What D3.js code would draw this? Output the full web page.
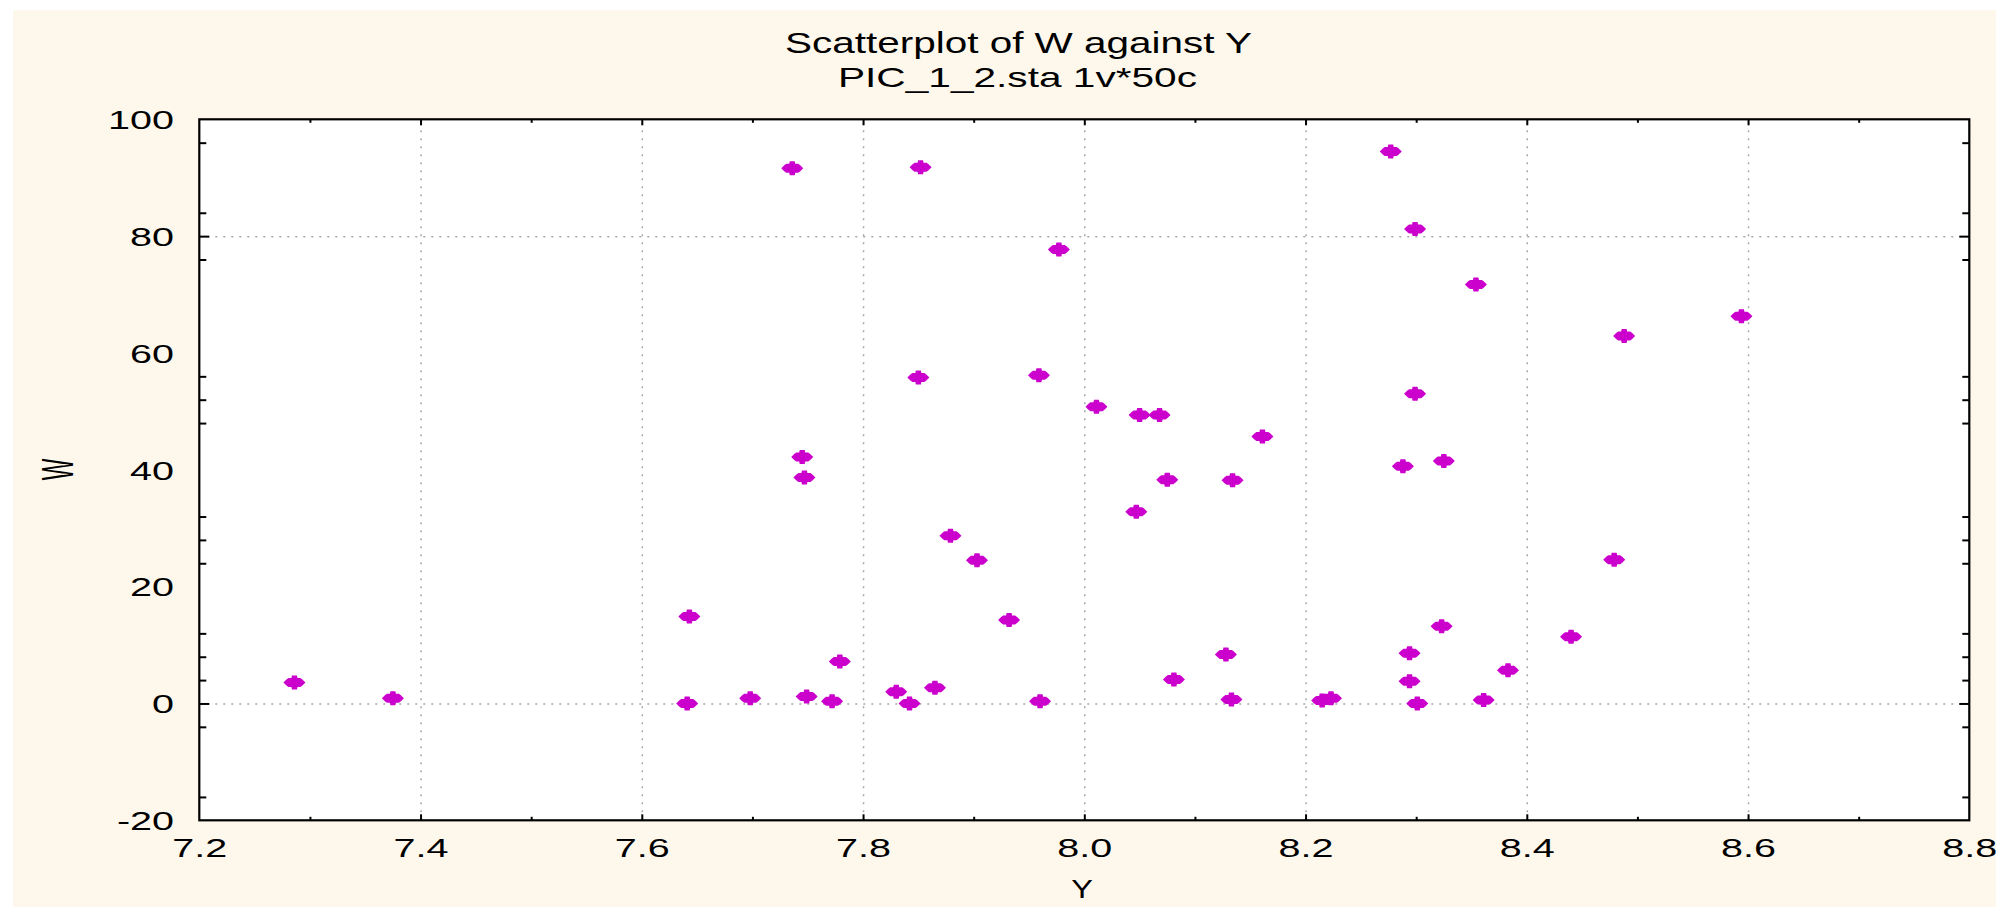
<!DOCTYPE html>
<html>
<head>
<meta charset="utf-8">
<script src="https://cdn.jsdelivr.net/npm/d3@7"></script>
<style>
  html, body { margin: 0; padding: 0; background: #ffffff; }
  svg { display: block; }
  text { font-family: "Liberation Sans", Arial, sans-serif; fill: #000; }
</style>
</head>
<body>
<svg id="chart" width="1996" height="907"></svg>
<script>
// ---- data (Y on the horizontal axis, W on the vertical axis) ----
const yValues = [7.736, 7.852, 7.977, 7.850, 7.959, 8.011, 8.050, 8.068, 8.161, 8.277,
                 8.299, 8.354, 8.299, 8.488, 8.594, 8.288, 8.325, 8.323, 8.294, 8.294,
                 8.301, 8.479, 8.440, 8.383, 8.361, 8.215, 8.223, 7.745, 7.747, 7.779,
                 7.749, 7.772, 7.698, 7.830, 7.842, 7.865, 7.879, 7.903, 7.932, 7.960,
                 8.047, 8.075, 8.134, 8.128, 8.081, 8.133, 7.286, 7.375, 7.643, 7.641];
const wValues = [91.6, 91.8, 77.7, 55.8, 56.2, 50.8, 49.4, 49.4, 45.7, 94.5,
                 81.2, 71.7, 53.0, 62.9, 66.3, 40.6, 41.5, 13.2, 8.6, 3.8,
                 0.0, 24.6, 11.4, 5.7, 0.6, 0.5, 0.9, 42.2, 38.7, 7.2,
                 1.2, 0.4, 0.9, 2.0, 0.0, 2.7, 28.7, 24.5, 14.3, 0.4,
                 32.8, 38.3, 38.2, 8.4, 4.1, 0.7, 3.6, 0.9, 14.9, 0.0];

const xTickValues = [7.2, 7.4, 7.6, 7.8, 8.0, 8.2, 8.4, 8.6, 8.8];
const xTickLabels = ["7.2", "7.4", "7.6", "7.8", "8.0", "8.2", "8.4", "8.6", "8.8"];
const yTickValues = [100, 80, 60, 40, 20, 0, -20];
const yTickLabels = ["100", "80", "60", "40", "20", "0", "-20"];
const xGridValues = [7.4, 7.6, 7.8, 8.0, 8.2, 8.4, 8.6];
const yGridValues = [80, 0];
const xMinorValues = [7.3, 7.5, 7.7, 7.9, 8.1, 8.3, 8.5, 8.7];
const yMinorValues = [96, 84, 76, 56, 52, 48, 32, 28, 24, 12, 8, 4, -4, -16];

const titleLine1 = "Scatterplot of W against Y";
const titleLine2 = "PIC_1_2.sta 1v*50c";
const xAxisTitle = "Y";
const yAxisTitle = "W";

// ---- layout ----
const pLeft = 199.3, pRight = 1969.3, pTop = 119.3, pBottom = 820.3;
const plotW = pRight - pLeft, plotH = pBottom - pTop;
const SX = 1.52; // horizontal stretch of the lettering

const svg = d3.select("#chart");

svg.append("rect").attr("x", 0).attr("y", 0).attr("width", 1996).attr("height", 907).attr("fill", "#ffffff");
svg.append("rect").attr("x", 13).attr("y", 10).attr("width", 1983).attr("height", 897).attr("fill", "#fef8ec");
svg.append("rect").attr("x", pLeft).attr("y", pTop).attr("width", plotW).attr("height", plotH).attr("fill", "#ffffff");

const x = d3.scaleLinear().domain([7.2, 8.8]).range([pLeft, pRight]);
const y = d3.scaleLinear().domain([-20, 100]).range([pBottom, pTop]);

// ---- grid lines ----
const gx = svg.append("g").attr("transform", `translate(0,${pBottom})`)
  .call(d3.axisBottom(x).tickValues(xGridValues).tickSize(-plotH).tickFormat(""));
gx.select(".domain").remove();
gx.selectAll("line").attr("stroke", "#a8a8a8").attr("stroke-width", 1.5).attr("stroke-dasharray", "2,6");

const gy = svg.append("g").attr("transform", `translate(${pLeft},0)`)
  .call(d3.axisLeft(y).tickValues(yGridValues).tickSize(-plotW).tickFormat(""));
gy.select(".domain").remove();
gy.selectAll("line").attr("stroke", "#a8a8a8").attr("stroke-width", 1.5).attr("stroke-dasharray", "2,6");

// ---- points ----
const markerPath = "M-11,0 L-8,-3 L-6,-4.5 L-3,-4.5 L-2.5,-7 L2.5,-7 L3,-4.5 L6,-4.5 L8,-3 L11,0 L8,3 L6,4.5 L3,4.5 L2.5,7 L-2.5,7 L-3,4.5 L-6,4.5 L-8,3 Z";
const pts = yValues.map((v, i) => ({ yv: v, wv: wValues[i] }));
svg.append("g").selectAll("path").data(pts).join("path")
  .attr("d", markerPath)
  .attr("transform", d => `translate(${x(d.yv)},${y(d.wv)})`)
  .attr("fill", "#cc00cc");

// ---- tick marks (inward on all four sides) ----
function tickAxis(axisFn, scale, values, size, transform) {
  const g = svg.append("g").attr("transform", transform)
    .call(axisFn(scale).tickValues(values).tickSizeInner(-size).tickSizeOuter(0).tickFormat(""));
  g.select(".domain").remove();
  g.selectAll("line").attr("stroke", "#000").attr("stroke-width", 2);
}
tickAxis(d3.axisBottom, x, xGridValues, 6, `translate(0,${pBottom})`);
tickAxis(d3.axisBottom, x, xMinorValues, 3.5, `translate(0,${pBottom})`);
tickAxis(d3.axisTop, x, xGridValues, 6, `translate(0,${pTop})`);
tickAxis(d3.axisTop, x, xMinorValues, 3.5, `translate(0,${pTop})`);
tickAxis(d3.axisLeft, y, yGridValues, 10, `translate(${pLeft},0)`);
tickAxis(d3.axisLeft, y, yMinorValues, 7, `translate(${pLeft},0)`);
tickAxis(d3.axisRight, y, yGridValues, 10, `translate(${pRight},0)`);
tickAxis(d3.axisRight, y, yMinorValues, 7, `translate(${pRight},0)`);

// ---- frame ----
svg.append("rect").attr("x", pLeft).attr("y", pTop).attr("width", plotW).attr("height", plotH)
  .attr("fill", "none").attr("stroke", "#000").attr("stroke-width", 2.2);

// ---- tick labels ----
const xl = svg.append("g").attr("transform", `translate(0,${pBottom})`)
  .call(d3.axisBottom(x).tickValues(xTickValues).tickSize(0).tickFormat((d, i) => xTickLabels[i]));
xl.select(".domain").remove();
xl.selectAll("line").remove();
xl.selectAll("text")
  .attr("y", 36.7).attr("dy", null)
  .attr("font-size", 26).attr("font-family", "Liberation Sans, Arial, sans-serif")
  .attr("fill", "#000")
  .attr("transform", `scale(${SX},1)`);

const yl = svg.append("g").attr("transform", `translate(${pLeft},0)`)
  .call(d3.axisLeft(y).tickValues(yTickValues).tickSize(0).tickFormat((d, i) => yTickLabels[i]));
yl.select(".domain").remove();
yl.selectAll("line").remove();
yl.selectAll("text")
  .attr("x", -25.3 / SX).attr("y", 9.2).attr("dy", null)
  .attr("font-size", 26).attr("font-family", "Liberation Sans, Arial, sans-serif")
  .attr("fill", "#000")
  .attr("transform", `scale(${SX},1)`);

// ---- titles ----
svg.append("text").attr("x", 785).attr("y", 53.3)
  .attr("font-size", 28.8).attr("textLength", 467).attr("lengthAdjust", "spacingAndGlyphs")
  .text(titleLine1);
svg.append("text").attr("x", 838).attr("y", 86.7)
  .attr("font-size", 28).attr("textLength", 359).attr("lengthAdjust", "spacingAndGlyphs")
  .text(titleLine2);

svg.append("text")
  .attr("transform", `translate(1082,898) scale(1.3,1)`)
  .attr("text-anchor", "middle").attr("font-size", 25)
  .text(xAxisTitle);

svg.append("text")
  .attr("transform", `translate(73.3,469.5) scale(1.9,1) rotate(-90)`)
  .attr("text-anchor", "middle").attr("font-size", 23)
  .text(yAxisTitle);
</script>
</body>
</html>
